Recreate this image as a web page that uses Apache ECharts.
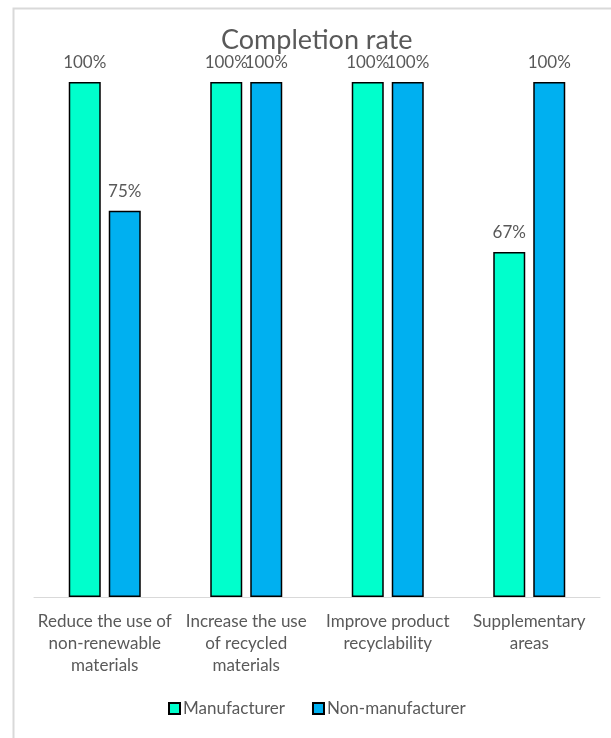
<!DOCTYPE html>
<html>
<head>
<meta charset="utf-8">
<script src="https://cdn.jsdelivr.net/npm/echarts@6/dist/echarts.min.js"></script>
<style>
  html, body { margin: 0; padding: 0; background: #fff; }
  #chart { width: 611px; height: 738px; }
</style>
</head>
<body>
<div id="chart"></div>
<script>
// categories and values
var categories = [
  "Reduce the use of\nnon-renewable\nmaterials",
  "Increase the use\nof recycled\nmaterials",
  "Improve product\nrecyclability",
  "Supplementary\nareas"
];
var manufacturer = [1.00, 1.00, 1.00, 0.67];
var nonManufacturer = [0.75, 1.00, 1.00, 1.00];

var textGray = "#595959";
var font = "Lato";

var myChart = echarts.init(document.getElementById("chart"));

function pctLabel() {
  return {
    show: true,
    position: "top",
    distance: 11,
    color: textGray,
    fontFamily: font,
    fontSize: 17,
    formatter: function (p) { return Math.round(p.value * 100) + "%"; }
  };
}

var option = {
  animation: false,
  backgroundColor: "#fff",
  textStyle: { fontFamily: font },
  title: {
    text: "Completion rate",
    left: 216,
    top: 22,
    textStyle: { color: textGray, fontFamily: font, fontSize: 27, fontWeight: "normal" }
  },
  graphic: [{
    type: "rect",
    left: 11, top: 6,
    shape: { width: 700, height: 800 },
    style: { fill: "none", stroke: "#d9d9d9", lineWidth: 2 },
    silent: true
  }],
  legend: {
    bottom: 16,
    left: 163,
    icon: "rect",
    itemWidth: 11,
    itemHeight: 11,
    itemGap: 27,
    textStyle: { color: textGray, fontFamily: font, fontSize: 17, padding: [0, 0, 0, -2] },
    data: ["Manufacturer", "Non-manufacturer"]
  },
  grid: { left: 34, right: 11, top: 82, bottom: 141, containLabel: false },
  xAxis: {
    type: "category",
    data: categories,
    axisLine: { lineStyle: { color: "#d9d9d9", width: 1 } },
    axisTick: { show: false },
    axisLabel: {
      interval: 0,
      color: textGray,
      fontFamily: font,
      fontSize: 17,
      lineHeight: 22,
      margin: 14
    }
  },
  yAxis: {
    type: "value",
    min: 0,
    max: 1,
    show: false,
    splitLine: { show: false }
  },
  series: [
    {
      name: "Manufacturer",
      type: "bar",
      data: manufacturer,
      barWidth: 32,
      barGap: "25%",
      itemStyle: { color: "#00FFCC", borderColor: "#000", borderWidth: 1.5 },
      label: pctLabel()
    },
    {
      name: "Non-manufacturer",
      type: "bar",
      data: nonManufacturer,
      barWidth: 32,
      barGap: "25%",
      itemStyle: { color: "#00B0F0", borderColor: "#000", borderWidth: 1.5 },
      label: pctLabel()
    }
  ]
};

myChart.setOption(option);
</script>
</body>
</html>
